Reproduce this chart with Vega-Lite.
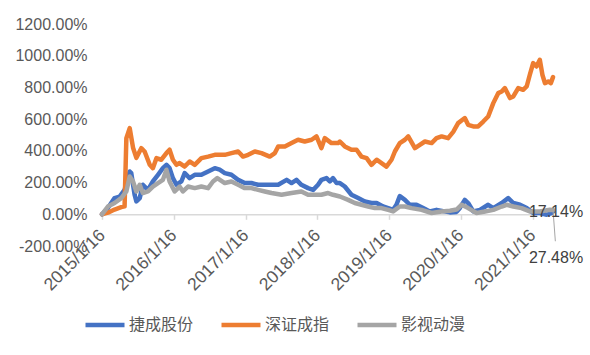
{
  "$schema": "https://vega.github.io/schema/vega-lite/v6.json",
  "width": 451,
  "height": 222,
  "autosize": "none",
  "padding": {"left": 102, "top": 24, "right": 37, "bottom": 109},
  "background": "white",
  "config": {
    "view": {"stroke": null},
    "axis": {"labelFont": "Liberation Sans", "labelFontSize": 16, "labelColor": "#595959", "grid": false, "title": null, "labelOverlap": false},
    "legend": {"labelFont": "Noto Sans CJK SC", "labelFontSize": 16, "labelColor": "#595959"}
  },
  "datasets": {
    "series": [
      {"date": "2015-01-16", "series": "捷成股份", "value": 0},
      {"date": "2015-02-15", "series": "捷成股份", "value": 39},
      {"date": "2015-03-21", "series": "捷成股份", "value": 102},
      {"date": "2015-04-16", "series": "捷成股份", "value": 112},
      {"date": "2015-05-11", "series": "捷成股份", "value": 154},
      {"date": "2015-06-06", "series": "捷成股份", "value": 270},
      {"date": "2015-06-14", "series": "捷成股份", "value": 260},
      {"date": "2015-07-01", "series": "捷成股份", "value": 123},
      {"date": "2015-07-10", "series": "捷成股份", "value": 81},
      {"date": "2015-07-27", "series": "捷成股份", "value": 102},
      {"date": "2015-08-12", "series": "捷成股份", "value": 186},
      {"date": "2015-09-07", "series": "捷成股份", "value": 154},
      {"date": "2015-10-02", "series": "捷成股份", "value": 207},
      {"date": "2015-10-28", "series": "捷成股份", "value": 249},
      {"date": "2015-11-22", "series": "捷成股份", "value": 291},
      {"date": "2015-12-10", "series": "捷成股份", "value": 312},
      {"date": "2015-12-26", "series": "捷成股份", "value": 291},
      {"date": "2016-01-12", "series": "捷成股份", "value": 228},
      {"date": "2016-01-30", "series": "捷成股份", "value": 186},
      {"date": "2016-02-24", "series": "捷成股份", "value": 207},
      {"date": "2016-03-12", "series": "捷成股份", "value": 260},
      {"date": "2016-04-06", "series": "捷成股份", "value": 228},
      {"date": "2016-05-02", "series": "捷成股份", "value": 249},
      {"date": "2016-06-05", "series": "捷成股份", "value": 249},
      {"date": "2016-07-09", "series": "捷成股份", "value": 270},
      {"date": "2016-08-12", "series": "捷成股份", "value": 291},
      {"date": "2016-09-06", "series": "捷成股份", "value": 281},
      {"date": "2016-10-02", "series": "捷成股份", "value": 260},
      {"date": "2016-11-05", "series": "捷成股份", "value": 249},
      {"date": "2016-12-09", "series": "捷成股份", "value": 217},
      {"date": "2017-01-12", "series": "捷成股份", "value": 197},
      {"date": "2017-02-15", "series": "捷成股份", "value": 197},
      {"date": "2017-03-21", "series": "捷成股份", "value": 186},
      {"date": "2017-04-24", "series": "捷成股份", "value": 186},
      {"date": "2017-05-28", "series": "捷成股份", "value": 186},
      {"date": "2017-07-01", "series": "捷成股份", "value": 186},
      {"date": "2017-08-13", "series": "捷成股份", "value": 217},
      {"date": "2017-09-07", "series": "捷成股份", "value": 197},
      {"date": "2017-10-02", "series": "捷成股份", "value": 217},
      {"date": "2017-10-27", "series": "捷成股份", "value": 186},
      {"date": "2017-11-30", "series": "捷成股份", "value": 165},
      {"date": "2017-12-26", "series": "捷成股份", "value": 154},
      {"date": "2018-01-20", "series": "捷成股份", "value": 186},
      {"date": "2018-02-06", "series": "捷成股份", "value": 217},
      {"date": "2018-03-04", "series": "捷成股份", "value": 228},
      {"date": "2018-03-21", "series": "捷成股份", "value": 207},
      {"date": "2018-04-06", "series": "捷成股份", "value": 228},
      {"date": "2018-04-24", "series": "捷成股份", "value": 197},
      {"date": "2018-05-11", "series": "捷成股份", "value": 197},
      {"date": "2018-06-05", "series": "捷成股份", "value": 175},
      {"date": "2018-07-09", "series": "捷成股份", "value": 123},
      {"date": "2018-08-12", "series": "捷成股份", "value": 102},
      {"date": "2018-09-15", "series": "捷成股份", "value": 81},
      {"date": "2018-10-19", "series": "捷成股份", "value": 71},
      {"date": "2018-11-14", "series": "捷成股份", "value": 71},
      {"date": "2018-12-17", "series": "捷成股份", "value": 49},
      {"date": "2019-01-12", "series": "捷成股份", "value": 39},
      {"date": "2019-02-06", "series": "捷成股份", "value": 28},
      {"date": "2019-02-23", "series": "捷成股份", "value": 60},
      {"date": "2019-03-12", "series": "捷成股份", "value": 115},
      {"date": "2019-04-07", "series": "捷成股份", "value": 91},
      {"date": "2019-05-02", "series": "捷成股份", "value": 60},
      {"date": "2019-06-05", "series": "捷成股份", "value": 60},
      {"date": "2019-07-09", "series": "捷成股份", "value": 39},
      {"date": "2019-08-12", "series": "捷成股份", "value": 18},
      {"date": "2019-09-15", "series": "捷成股份", "value": 28},
      {"date": "2019-10-19", "series": "捷成股份", "value": 20},
      {"date": "2019-11-22", "series": "捷成股份", "value": 12},
      {"date": "2019-12-26", "series": "捷成股份", "value": 15},
      {"date": "2020-01-12", "series": "捷成股份", "value": 40},
      {"date": "2020-02-06", "series": "捷成股份", "value": 91},
      {"date": "2020-02-23", "series": "捷成股份", "value": 71},
      {"date": "2020-03-20", "series": "捷成股份", "value": 18},
      {"date": "2020-04-23", "series": "捷成股份", "value": 28},
      {"date": "2020-06-04", "series": "捷成股份", "value": 60},
      {"date": "2020-06-30", "series": "捷成股份", "value": 39},
      {"date": "2020-08-12", "series": "捷成股份", "value": 71},
      {"date": "2020-09-14", "series": "捷成股份", "value": 102},
      {"date": "2020-10-10", "series": "捷成股份", "value": 71},
      {"date": "2020-11-13", "series": "捷成股份", "value": 60},
      {"date": "2020-12-17", "series": "捷成股份", "value": 39},
      {"date": "2021-01-19", "series": "捷成股份", "value": 8},
      {"date": "2021-02-22", "series": "捷成股份", "value": 8},
      {"date": "2021-03-29", "series": "捷成股份", "value": -3},
      {"date": "2021-04-22", "series": "捷成股份", "value": 8},
      {"date": "2021-04-30", "series": "捷成股份", "value": 17.14},

      {"date": "2015-01-16", "series": "深证成指", "value": 0},
      {"date": "2015-02-15", "series": "深证成指", "value": 10},
      {"date": "2015-03-21", "series": "深证成指", "value": 30},
      {"date": "2015-04-24", "series": "深证成指", "value": 45},
      {"date": "2015-05-11", "series": "深证成指", "value": 50},
      {"date": "2015-05-20", "series": "深证成指", "value": 480},
      {"date": "2015-06-06", "series": "深证成指", "value": 543},
      {"date": "2015-06-23", "series": "深证成指", "value": 420},
      {"date": "2015-07-10", "series": "深证成指", "value": 356},
      {"date": "2015-08-04", "series": "深证成指", "value": 417},
      {"date": "2015-08-21", "series": "深证成指", "value": 396},
      {"date": "2015-09-16", "series": "深证成指", "value": 312},
      {"date": "2015-10-02", "series": "深证成指", "value": 291},
      {"date": "2015-10-20", "series": "深证成指", "value": 354},
      {"date": "2015-11-14", "series": "深证成指", "value": 344},
      {"date": "2015-12-10", "series": "深证成指", "value": 386},
      {"date": "2015-12-26", "series": "深证成指", "value": 407},
      {"date": "2016-01-12", "series": "深证成指", "value": 344},
      {"date": "2016-01-30", "series": "深证成指", "value": 312},
      {"date": "2016-02-15", "series": "深证成指", "value": 323},
      {"date": "2016-03-12", "series": "深证成指", "value": 301},
      {"date": "2016-04-06", "series": "深证成指", "value": 333},
      {"date": "2016-05-02", "series": "深证成指", "value": 312},
      {"date": "2016-06-05", "series": "深证成指", "value": 354},
      {"date": "2016-07-09", "series": "深证成指", "value": 364},
      {"date": "2016-08-12", "series": "深证成指", "value": 375},
      {"date": "2016-10-02", "series": "深证成指", "value": 375},
      {"date": "2016-11-05", "series": "深证成指", "value": 386},
      {"date": "2016-12-09", "series": "深证成指", "value": 396},
      {"date": "2017-01-03", "series": "深证成指", "value": 364},
      {"date": "2017-01-29", "series": "深证成指", "value": 375},
      {"date": "2017-03-04", "series": "深证成指", "value": 396},
      {"date": "2017-04-07", "series": "深证成指", "value": 386},
      {"date": "2017-05-19", "series": "深证成指", "value": 364},
      {"date": "2017-06-14", "series": "深证成指", "value": 386},
      {"date": "2017-07-01", "series": "深证成指", "value": 428},
      {"date": "2017-08-04", "series": "深证成指", "value": 428},
      {"date": "2017-09-07", "series": "深证成指", "value": 449},
      {"date": "2017-10-10", "series": "深证成指", "value": 470},
      {"date": "2017-11-13", "series": "深证成指", "value": 459},
      {"date": "2017-12-18", "series": "深证成指", "value": 470},
      {"date": "2018-01-12", "series": "深证成指", "value": 491},
      {"date": "2018-02-06", "series": "深证成指", "value": 417},
      {"date": "2018-02-23", "series": "深证成指", "value": 480},
      {"date": "2018-03-29", "series": "深证成指", "value": 449},
      {"date": "2018-05-02", "series": "深证成指", "value": 449},
      {"date": "2018-05-11", "series": "深证成指", "value": 459},
      {"date": "2018-06-05", "series": "深证成指", "value": 428},
      {"date": "2018-07-09", "series": "深证成指", "value": 407},
      {"date": "2018-08-04", "series": "深证成指", "value": 407},
      {"date": "2018-08-29", "series": "深证成指", "value": 364},
      {"date": "2018-09-24", "series": "深证成指", "value": 354},
      {"date": "2018-10-19", "series": "深证成指", "value": 312},
      {"date": "2018-11-14", "series": "深证成指", "value": 344},
      {"date": "2018-12-09", "series": "深证成指", "value": 323},
      {"date": "2019-01-03", "series": "深证成指", "value": 301},
      {"date": "2019-01-29", "series": "深证成指", "value": 344},
      {"date": "2019-02-15", "series": "深证成指", "value": 396},
      {"date": "2019-03-12", "series": "深证成指", "value": 449},
      {"date": "2019-04-07", "series": "深证成指", "value": 470},
      {"date": "2019-04-24", "series": "深证成指", "value": 491},
      {"date": "2019-05-28", "series": "深证成指", "value": 417},
      {"date": "2019-06-22", "series": "深证成指", "value": 438},
      {"date": "2019-07-18", "series": "深证成指", "value": 459},
      {"date": "2019-08-21", "series": "深证成指", "value": 449},
      {"date": "2019-09-15", "series": "深证成指", "value": 480},
      {"date": "2019-10-11", "series": "深证成指", "value": 491},
      {"date": "2019-11-13", "series": "深证成指", "value": 480},
      {"date": "2019-12-09", "series": "深证成指", "value": 520},
      {"date": "2020-01-03", "series": "深证成指", "value": 575},
      {"date": "2020-02-06", "series": "深证成指", "value": 607},
      {"date": "2020-02-23", "series": "深证成指", "value": 564},
      {"date": "2020-03-20", "series": "深证成指", "value": 554},
      {"date": "2020-04-14", "series": "深证成指", "value": 554},
      {"date": "2020-05-10", "series": "深证成指", "value": 585},
      {"date": "2020-06-04", "series": "深证成指", "value": 617},
      {"date": "2020-06-30", "series": "深证成指", "value": 701},
      {"date": "2020-07-25", "series": "深证成指", "value": 764},
      {"date": "2020-08-12", "series": "深证成指", "value": 774},
      {"date": "2020-08-28", "series": "深证成指", "value": 796},
      {"date": "2020-09-23", "series": "深证成指", "value": 733},
      {"date": "2020-10-10", "series": "深证成指", "value": 743},
      {"date": "2020-11-04", "series": "深证成指", "value": 796},
      {"date": "2020-11-29", "series": "深证成指", "value": 785},
      {"date": "2020-12-17", "series": "深证成指", "value": 806},
      {"date": "2021-01-02", "series": "深证成指", "value": 880},
      {"date": "2021-01-19", "series": "深证成指", "value": 953},
      {"date": "2021-02-05", "series": "深证成指", "value": 932},
      {"date": "2021-02-22", "series": "深证成指", "value": 974},
      {"date": "2021-03-07", "series": "深证成指", "value": 880},
      {"date": "2021-03-20", "series": "深证成指", "value": 827},
      {"date": "2021-04-06", "series": "深证成指", "value": 838},
      {"date": "2021-04-19", "series": "深证成指", "value": 827},
      {"date": "2021-04-30", "series": "深证成指", "value": 865},

      {"date": "2015-01-16", "series": "影视动漫", "value": 0},
      {"date": "2015-02-15", "series": "影视动漫", "value": 49},
      {"date": "2015-03-21", "series": "影视动漫", "value": 71},
      {"date": "2015-04-24", "series": "影视动漫", "value": 102},
      {"date": "2015-05-20", "series": "影视动漫", "value": 144},
      {"date": "2015-06-06", "series": "影视动漫", "value": 238},
      {"date": "2015-06-23", "series": "影视动漫", "value": 207},
      {"date": "2015-07-10", "series": "影视动漫", "value": 144},
      {"date": "2015-07-27", "series": "影视动漫", "value": 186},
      {"date": "2015-08-12", "series": "影视动漫", "value": 134},
      {"date": "2015-09-07", "series": "影视动漫", "value": 144},
      {"date": "2015-10-02", "series": "影视动漫", "value": 175},
      {"date": "2015-10-28", "series": "影视动漫", "value": 197},
      {"date": "2015-11-22", "series": "影视动漫", "value": 217},
      {"date": "2015-12-10", "series": "影视动漫", "value": 281},
      {"date": "2015-12-26", "series": "影视动漫", "value": 207},
      {"date": "2016-01-21", "series": "影视动漫", "value": 144},
      {"date": "2016-02-15", "series": "影视动漫", "value": 175},
      {"date": "2016-03-03", "series": "影视动漫", "value": 144},
      {"date": "2016-03-29", "series": "影视动漫", "value": 175},
      {"date": "2016-05-02", "series": "影视动漫", "value": 165},
      {"date": "2016-06-05", "series": "影视动漫", "value": 175},
      {"date": "2016-07-09", "series": "影视动漫", "value": 165},
      {"date": "2016-08-03", "series": "影视动漫", "value": 207},
      {"date": "2016-08-25", "series": "影视动漫", "value": 228},
      {"date": "2016-10-02", "series": "影视动漫", "value": 197},
      {"date": "2016-11-05", "series": "影视动漫", "value": 207},
      {"date": "2016-12-09", "series": "影视动漫", "value": 186},
      {"date": "2017-01-12", "series": "影视动漫", "value": 165},
      {"date": "2017-02-15", "series": "影视动漫", "value": 165},
      {"date": "2017-03-21", "series": "影视动漫", "value": 154},
      {"date": "2017-04-24", "series": "影视动漫", "value": 144},
      {"date": "2017-05-28", "series": "影视动漫", "value": 134},
      {"date": "2017-07-18", "series": "影视动漫", "value": 123},
      {"date": "2017-09-07", "series": "影视动漫", "value": 134},
      {"date": "2017-10-27", "series": "影视动漫", "value": 144},
      {"date": "2017-11-30", "series": "影视动漫", "value": 123},
      {"date": "2018-01-03", "series": "影视动漫", "value": 123},
      {"date": "2018-02-06", "series": "影视动漫", "value": 123},
      {"date": "2018-03-12", "series": "影视动漫", "value": 134},
      {"date": "2018-04-06", "series": "影视动漫", "value": 123},
      {"date": "2018-05-11", "series": "影视动漫", "value": 112},
      {"date": "2018-06-22", "series": "影视动漫", "value": 91},
      {"date": "2018-07-26", "series": "影视动漫", "value": 71},
      {"date": "2018-08-29", "series": "影视动漫", "value": 60},
      {"date": "2018-10-02", "series": "影视动漫", "value": 49},
      {"date": "2018-11-05", "series": "影视动漫", "value": 39},
      {"date": "2018-12-09", "series": "影视动漫", "value": 39},
      {"date": "2019-01-12", "series": "影视动漫", "value": 28},
      {"date": "2019-02-06", "series": "影视动漫", "value": 18},
      {"date": "2019-03-12", "series": "影视动漫", "value": 49},
      {"date": "2019-04-07", "series": "影视动漫", "value": 49},
      {"date": "2019-05-11", "series": "影视动漫", "value": 39},
      {"date": "2019-07-01", "series": "影视动漫", "value": 28},
      {"date": "2019-08-21", "series": "影视动漫", "value": 8},
      {"date": "2019-10-11", "series": "影视动漫", "value": 18},
      {"date": "2019-11-22", "series": "影视动漫", "value": 22},
      {"date": "2019-12-26", "series": "影视动漫", "value": 30},
      {"date": "2020-01-21", "series": "影视动漫", "value": 60},
      {"date": "2020-02-23", "series": "影视动漫", "value": 39},
      {"date": "2020-04-06", "series": "影视动漫", "value": 8},
      {"date": "2020-05-19", "series": "影视动漫", "value": 18},
      {"date": "2020-06-30", "series": "影视动漫", "value": 28},
      {"date": "2020-08-12", "series": "影视动漫", "value": 49},
      {"date": "2020-09-06", "series": "影视动漫", "value": 60},
      {"date": "2020-10-10", "series": "影视动漫", "value": 49},
      {"date": "2020-11-21", "series": "影视动漫", "value": 39},
      {"date": "2021-01-02", "series": "影视动漫", "value": 18},
      {"date": "2021-02-22", "series": "影视动漫", "value": 18},
      {"date": "2021-04-14", "series": "影视动漫", "value": 28},
      {"date": "2021-04-30", "series": "影视动漫", "value": 27.48}
    ]
  },
  "layer": [
    {
      "data": {"name": "series"},
      "mark": {"type": "line", "strokeWidth": 4.5, "strokeJoin": "round", "strokeCap": "round"},
      "encoding": {
        "x": {
          "field": "date", "type": "temporal",
          "scale": {"type": "utc", "domain": [{"year": 2015, "month": 1, "date": 16, "utc": true}, {"year": 2021, "month": 4, "date": 30, "utc": true}], "nice": false},
          "axis": {
            "values": [
              {"year": 2015, "month": 1, "date": 16, "utc": true},
              {"year": 2016, "month": 1, "date": 16, "utc": true},
              {"year": 2017, "month": 1, "date": 16, "utc": true},
              {"year": 2018, "month": 1, "date": 16, "utc": true},
              {"year": 2019, "month": 1, "date": 16, "utc": true},
              {"year": 2020, "month": 1, "date": 16, "utc": true},
              {"year": 2021, "month": 1, "date": 16, "utc": true}
            ],
            "tickCount": 20,
            "format": "%Y/%-m/%-d",
            "labelAngle": -45,
            "labelAlign": "right",
            "labelBaseline": "middle",
            "labelPadding": 13,
            "labelFontSize": 17.5,
            "offset": -31.7,
            "domainColor": "#D9D9D9",
            "domainWidth": 1.5,
            "tickColor": "#D9D9D9",
            "tickWidth": 1.5,
            "tickSize": 5,
            "labelOverlap": false,
            "labelFlush": false
          }
        },
        "y": {
          "field": "value", "type": "quantitative",
          "scale": {"domain": [-200, 1200], "nice": false, "zero": false},
          "axis": {
            "values": [-200, 0, 200, 400, 600, 800, 1000, 1200],
            "tickCount": 20,
            "labelExpr": "datum.value + '.00%'",
            "domain": false,
            "ticks": false,
            "labelPadding": 15,
            "labelOverlap": false,
            "labelFlush": false
          }
        },
        "color": {
          "field": "series", "type": "nominal",
          "scale": {"domain": ["捷成股份", "深证成指", "影视动漫"], "range": ["#4472C4", "#ED7D31", "#A5A5A5"]},
          "legend": {
            "title": null,
            "orient": "none",
            "legendX": -19,
            "legendY": 279,
            "direction": "horizontal",
            "symbolType": "stroke",
            "symbolSize": 1521,
            "symbolStrokeWidth": 4.5,
            "labelOffset": 2,
            "columnPadding": 18
          }
        }
      }
    },
    {
      "data": {"values": [{"date": "2021-04-30", "value": 27.48, "date2": "2021-05-12", "value2": -170}]},
      "mark": {"type": "rule", "color": "#A6A6A6", "strokeWidth": 1},
      "encoding": {
        "x": {"field": "date", "type": "temporal"},
        "x2": {"field": "date2"},
        "y": {"field": "value", "type": "quantitative"},
        "y2": {"field": "value2"}
      }
    },
    {
      "data": {"values": [{"date": "2021-04-30", "value": 17.14, "label": "17.14%"}]},
      "mark": {"type": "text", "font": "Liberation Sans", "fontSize": 16, "color": "#404040", "align": "center", "baseline": "middle", "dx": 3},
      "encoding": {
        "x": {"field": "date", "type": "temporal"},
        "y": {"field": "value", "type": "quantitative"},
        "text": {"field": "label", "type": "nominal"}
      }
    },
    {
      "data": {"values": [{"date": "2021-04-30", "value": 27.48, "label": "27.48%"}]},
      "mark": {"type": "text", "font": "Liberation Sans", "fontSize": 16, "color": "#404040", "align": "center", "baseline": "middle", "dx": 3, "dy": 48},
      "encoding": {
        "x": {"field": "date", "type": "temporal"},
        "y": {"field": "value", "type": "quantitative"},
        "text": {"field": "label", "type": "nominal"}
      }
    }
  ]
}
